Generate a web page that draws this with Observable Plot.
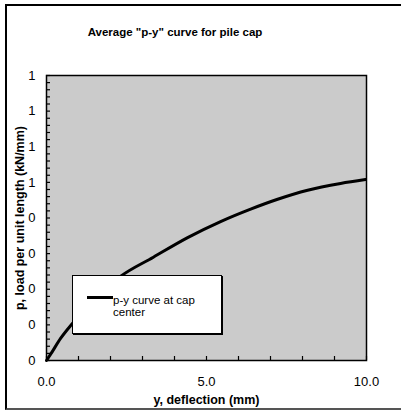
<!DOCTYPE html>
<html>
<head>
<meta charset="utf-8">
<script src="https://cdn.jsdelivr.net/npm/d3@7"></script>
<script src="https://cdn.jsdelivr.net/npm/@observablehq/plot@0.6"></script>
<style>
  html, body { margin: 0; padding: 0; background: #fff; }
  #wrap { position: relative; width: 401px; height: 411px; font-family: "Liberation Sans", Arial, sans-serif; overflow: hidden; }
  #border { position: absolute; left: 5px; top: 4px; width: 420px; height: 402px; border-left: 2px solid #000; border-top: 2px solid #000; border-bottom: 2px solid #555; box-sizing: content-box; }
  #title { position: absolute; left: 0; width: 350px; top: 26px; text-align: center; font-weight: bold; font-size: 11.5px; color: #000; }
  #legend { position: absolute; left: 72px; top: 275px; width: 148px; height: 57px; background: #fff; border: 1px solid #000; box-shadow: 1px 1px 0 #000; }
  #legend .sw { position: absolute; left: 14px; top: 20px; width: 26px; height: 3px; background: #000; }
  #legend .tx { position: absolute; left: 40px; font-size: 11.5px; line-height: 11px; height: 11px; color: #000; white-space: nowrap; }
  svg { position: absolute; left: 0; top: 0; }
</style>
</head>
<body>
<div id="wrap">
  <div id="border"></div>
  <div id="chart"></div>
  <div id="title">Average "p-y" curve for pile cap</div>
  <div id="legend"><div class="sw"></div><div class="tx" style="top:19px">p-y curve at cap</div><div class="tx" style="top:31px">center</div></div>
</div>
<script>
// Data
const deflection = [0, 0.125, 0.44, 0.81, 2.31, 3.34, 4.41, 5.44, 6.38, 7.2, 8.16, 9.19, 9.97];
const load       = [0, 0.017, 0.062, 0.104, 0.236, 0.290, 0.345, 0.390, 0.425, 0.452, 0.478, 0.497, 0.508];
const seriesName = "p-y curve at cap center";

const xMajorTicks = [0, 5, 10];
const xTickLabels = ["0.0", "5.0", "10.0"];
const xMinorTicks = [0, 1, 2, 3, 4, 5, 6, 7, 8, 9, 10];
const yMajorTicks = [0, 0.1, 0.2, 0.3, 0.4, 0.5, 0.6, 0.7, 0.8];
const yTickLabels = ["0", "0", "0", "0", "0", "1", "1", "1", "1"];
const yMinorTicks = d3.range(0, 41).map(i => i / 50);

const data = deflection.map((x, i) => ({x, y: load[i], series: seriesName}));

const chart = Plot.plot({
  width: 401,
  height: 411,
  marginLeft: 46,
  marginRight: 35,
  marginTop: 75,
  marginBottom: 51,
  style: {fontFamily: "'Liberation Sans', Arial, sans-serif", fontSize: "13px", color: "#000", background: "transparent"},
  x: {domain: [0, 10], label: null},
  y: {domain: [0, 0.8], label: null},
  marks: [
    Plot.frame({fill: "#cbcbcb"}),
    Plot.line(data, {x: "x", y: "y", stroke: "#000", strokeWidth: 3, curve: "monotone-x"}),
    Plot.frame({stroke: "#000", strokeWidth: 1.5}),
    Plot.axisX({ticks: xMinorTicks, tickSize: -4, text: null, stroke: "#000", strokeWidth: 1.2}),
    Plot.axisX({ticks: xMajorTicks, tickSize: 0, tickPadding: 16, tickFormat: (d, i) => xTickLabels[i], fontSize: 13,
      label: "y, deflection (mm)", labelAnchor: "center", labelArrow: "none", labelOffset: 43}),
    Plot.axisY({ticks: yMinorTicks, tickSize: -4, text: null, stroke: "#000", strokeWidth: 1.2}),
    Plot.axisY({ticks: yMajorTicks, tickSize: 0, tickPadding: 11, tickFormat: (d, i) => yTickLabels[i], fontSize: 13,
      label: "p, load per unit length (kN/mm)", labelAnchor: "center", labelArrow: "none", labelOffset: 31})
  ]
});
// bold axis titles
chart.querySelectorAll("g[aria-label='x-axis label'] text, g[aria-label='y-axis label'] text").forEach(t => {
  t.style.fontWeight = "bold"; t.style.fontSize = "12.5px";
});
document.getElementById("chart").appendChild(chart);
</script>
</body>
</html>
